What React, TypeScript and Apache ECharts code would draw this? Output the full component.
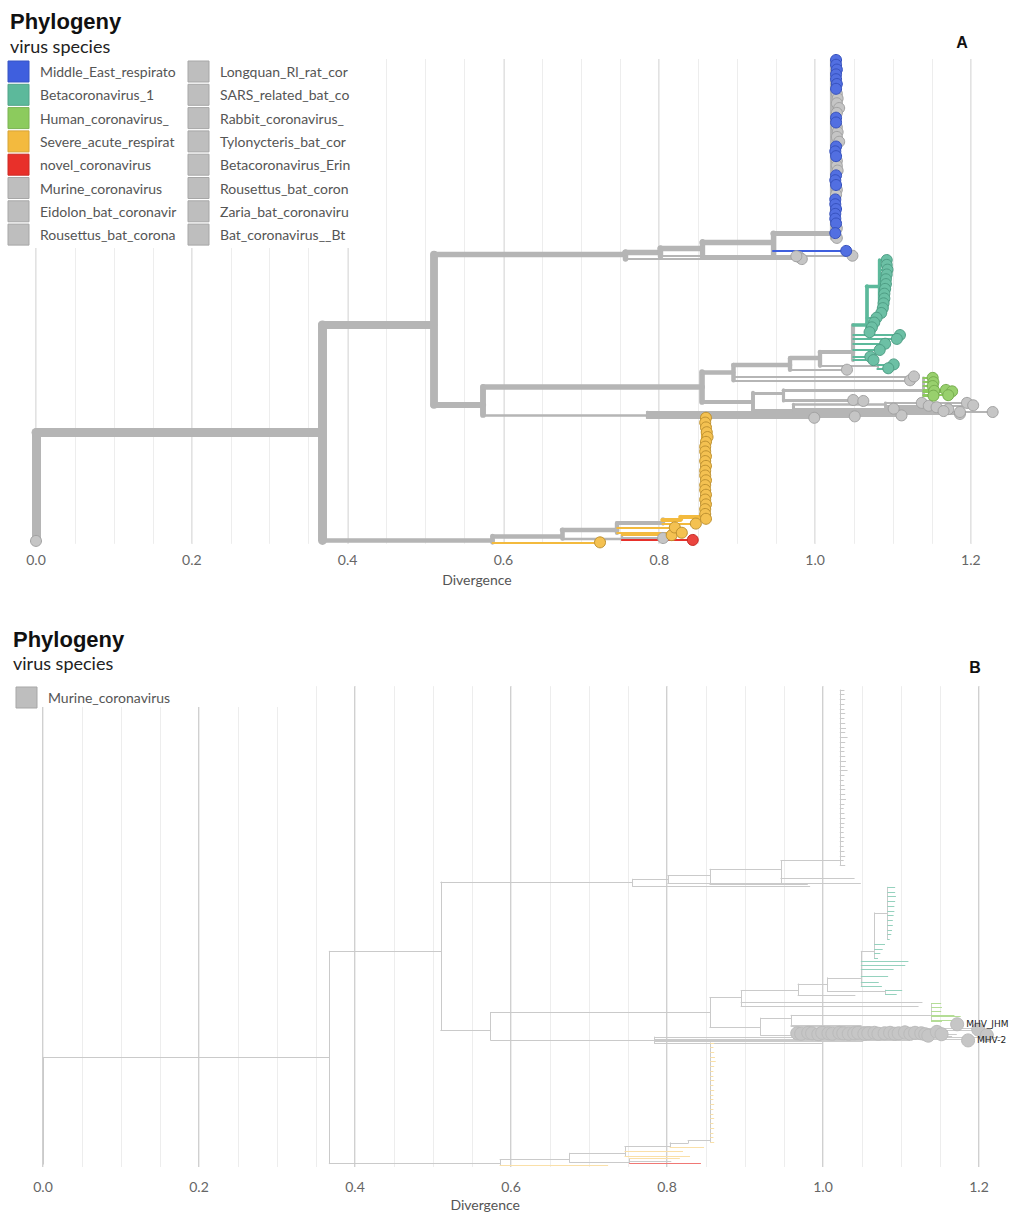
import React, { useEffect, useRef } from "react";
import * as echarts from "echarts";

// ---------- data ----------
const speciesNames = [
  "Middle_East_respiratory_syndrome_coronavirus",
  "Betacoronavirus_1",
  "Human_coronavirus_HKU1",
  "Severe_acute_respiratory_syndrome_related_coronavirus",
  "novel_coronavirus",
  "Murine_coronavirus",
  "Eidolon_bat_coronavirus_C704",
  "Rousettus_bat_coronavirus_GCCDC1",
  "Longquan_Rl_rat_coronavirus",
  "SARS_related_bat_coronavirus",
  "Rabbit_coronavirus_HKU14",
  "Tylonycteris_bat_coronavirus_HKU4",
  "Betacoronavirus_Erinaceus",
  "Rousettus_bat_coronavirus_HKU9",
  "Zaria_bat_coronavirus",
  "Bat_coronavirus__BtCoV_133",
];
const speciesColors = [
  "#3F5FDE", "#5CB99B", "#8CCB5D", "#F3BA3E", "#E8302A",
  "#BEBEBE", "#BEBEBE", "#BEBEBE", "#BEBEBE", "#BEBEBE", "#BEBEBE",
  "#BEBEBE", "#BEBEBE", "#BEBEBE", "#BEBEBE", "#BEBEBE",
];
const legendSpeciesB = [5];

const xTickLabels = ["0.0", "0.2", "0.4", "0.6", "0.8", "1.0", "1.2"];

// tree nodes: [id, parent, divergence, row (tip order, 0 = top), species (-1 = mixed)]
const treeNodes: [string, string, number, number, number][] = [
  ["root", "", 0, 88, -1],
  ["T0", "root", 0, 100, 15],
  ["A1", "root", 0.367, 77.5, -1],
  ["A2", "A1", 0.51, 55.1, -1],
  ["S0", "A1", 0.586, 99.9, -1],
  // MERS backbone
  ["M0", "A2", 0.756, 40.5, -1],
  ["M1", "M0", 0.801, 39.9, -1],
  ["tMa", "M0", 0.983, 41.4, 9],
  ["M2", "M1", 0.855, 39.1, -1],
  ["tMb", "M1", 0.976, 40.8, 9],
  ["M3", "M2", 0.946, 37.8, -1],
  ["tMc", "M2", 0.98, 41.0, 6],
  ["Mcol", "M3", 1.022, 36.0, -1],
  ["tMd", "M3", 1.04, 39.7, 0],
  ["tMe", "M3", 1.048, 40.7, 9],
  // lower clade
  ["B0", "A2", 0.574, 71.7, -1],
  ["C1", "B0", 0.855, 68.0, -1],
  ["L0", "B0", 0.784, 73.8, -1],
  ["tL1", "L0", 0.999, 74.4, 5],
  ["tL2", "L0", 1.051, 74.1, 5],
  ["tL3", "L0", 1.111, 73.9, 5],
  ["tL4", "L0", 1.186, 73.6, 5],
  ["tL5", "L0", 1.228, 73.2, 10],
  ["C2", "C1", 0.895, 64.9, -1],
  ["C5", "C1", 0.92, 71.1, -1],
  ["C3", "C2", 0.968, 63.4, -1],
  ["tC2a", "C2", 1.122, 66.6, 7],
  ["tC2b", "C2", 1.127, 65.8, 7],
  ["C4", "C3", 1.006, 62.0, -1],
  ["tC3a", "C3", 1.041, 64.4, 13],
  ["G1", "C4", 1.049, 60.7, -1],
  ["G2", "C4", 1.08, 63.6, -1],
  ["tG2a", "G2", 1.101, 63.3, 1],
  ["tG2b", "G2", 1.094, 64.1, 1],
  ["Gcol", "G1", 1.066, 55.1, 1],
  ["Gtop", "Gcol", 1.083, 47.0, 1],
  ["tG1a", "G1", 1.109, 57.2, 1],
  ["tG1b", "G1", 1.105, 58.0, 1],
  ["tG1c", "G1", 1.09, 59.0, 1],
  ["tG1d", "G1", 1.083, 60.3, 1],
  ["tG1e", "G1", 1.071, 61.7, 1],
  ["tG1f", "G1", 1.075, 62.4, 1],
  ["C6", "C5", 0.959, 69.2, -1],
  ["C7", "C5", 0.972, 72.8, -1],
  ["H1", "C6", 1.139, 68.6, -1],
  ["tC6a", "C6", 1.049, 70.7, 11],
  ["tC6b", "C6", 1.062, 70.9, 11],
  ["tH1", "H1", 1.151, 66.1, 2],
  ["tH2", "H1", 1.152, 67.0, 2],
  ["tH3", "H1", 1.151, 67.8, 2],
  ["tH4", "H1", 1.153, 68.8, 2],
  ["tH5", "H1", 1.152, 69.8, 2],
  ["tH6", "H1", 1.168, 68.6, 2],
  ["tH7", "H1", 1.176, 68.9, 2],
  ["tH8", "H1", 1.171, 69.7, 2],
  ["C8", "C7", 1.09, 71.6, -1],
  ["tC7a", "C7", 1.101, 72.5, 5],
  ["tC7b", "C7", 1.165, 73.0, 14],
  ["tC7c", "C7", 1.171, 72.6, 5],
  ["tC7d", "C7", 1.186, 73.2, 5],
  ["tC8a", "C8", 1.137, 71.3, 5],
  ["tC8b", "C8", 1.146, 71.9, 5],
  ["tC8c", "C8", 1.156, 72.2, 5],
  ["tC8d", "C8", 1.195, 71.3, 5],
  ["tC8e", "C8", 1.203, 71.8, 5],
  // SARS lineage
  ["S1", "S0", 0.675, 99.0, -1],
  ["tS0", "S0", 0.724, 100.3, 3],
  ["S2", "S1", 0.746, 97.7, -1],
  ["S1b", "S1", 0.752, 99.5, -1],
  ["tN1", "S1b", 0.843, 99.8, 4],
  ["tS1a", "S1b", 0.805, 99.4, 9],
  ["tS1b", "S1b", 0.816, 98.8, 3],
  ["S3", "S2", 0.804, 96.3, -1],
  ["tS2a", "S2", 0.82, 97.2, 3],
  ["tS2b", "S2", 0.829, 98.3, 3],
  ["S4", "S3", 0.827, 95.5, 3],
  ["tS3a", "S3", 0.847, 96.4, 3],
  ["Scol", "S4", 0.856, 95.0, 3],
];

// MERS column (children of Mcol)
const mersColRow = [0, 1, 2, 3, 4, 5, 6, 7, 8, 9, 10, 11, 12, 13, 14, 15, 16, 17, 18, 19, 20, 21, 22, 23, 24, 25, 26, 27, 28, 29, 30, 31, 32, 33, 34, 35, 36, 37];
const mersColDiv = [1.027, 1.027, 1.028, 1.027, 1.027, 1.028, 1.027, 1.028, 1.029, 1.028, 1.031, 1.028, 1.027, 1.027, 1.028, 1.029, 1.028, 1.031, 1.027, 1.026, 1.027, 1.028, 1.028, 1.029, 1.027, 1.026, 1.027, 1.028, 1.027, 1.026, 1.026, 1.027, 1.026, 1.026, 1.027, 1.028, 1.026, 1.028];
const mersColSp = [0, 0, 0, 0, 0, 0, 0, 8, 8, 8, 8, 8, 0, 0, 9, 9, 9, 9, 0, 0, 0, 8, 8, 8, 0, 0, 0, 9, 9, 0, 0, 0, 0, 0, 0, 8, 0, 9];

// Betacoronavirus_1 column
const betaTopRow = [41.6, 42.6, 43.6, 44.6, 45.6, 46.6, 47.6, 48.6, 49.6, 50.6, 51.6, 52.6];
const betaTopDiv = [1.092, 1.092, 1.093, 1.092, 1.091, 1.091, 1.09, 1.089, 1.089, 1.088, 1.087, 1.085];
const betaLowRow = [53.6, 54.6, 55.6, 56.6];
const betaLowDiv = [1.079, 1.076, 1.073, 1.07];

// SARS column
const sarsColRow = [74.4, 75.4, 76.4, 77.4, 78.4, 79.4, 80.4, 81.4, 82.4, 83.4, 84.4, 85.4, 86.4, 87.4, 88.4, 89.4, 90.4, 91.4, 92.4, 93.4, 94.4, 95.4];
const sarsColDiv = [0.86, 0.859, 0.86, 0.861, 0.862, 0.86, 0.859, 0.859, 0.86, 0.859, 0.86, 0.859, 0.859, 0.86, 0.859, 0.859, 0.86, 0.859, 0.86, 0.859, 0.859, 0.86];

// Panel B: Murine_coronavirus tips shown
const murineBDiv = [0.967, 0.972, 0.981, 0.986, 0.994, 0.999, 1.007, 1.012, 1.021, 1.026, 1.033, 1.04, 1.045, 1.053, 1.058, 1.066, 1.071, 1.079, 1.086, 1.092, 1.097, 1.105, 1.112, 1.118, 1.126, 1.131, 1.135, 1.146, 1.152, 1.186, 1.172, 1.199, 1.21];
const murineBRow = [72.4, 72.5, 72.3, 72.4, 72.6, 72.3, 72.4, 72.5, 72.3, 72.4, 72.5, 72.4, 72.3, 72.5, 72.4, 72.3, 72.5, 72.4, 72.3, 72.5, 72.4, 72.2, 72.5, 72.3, 72.4, 72.6, 72.9, 72.1, 72.6, 73.9, 70.5, 71.6, 72.8];
const murineBLabel = ["", "", "", "", "", "", "", "", "", "", "", "", "", "", "", "", "", "", "", "", "", "", "", "", "", "", "", "", "", "MHV-2", "MHV_JHM", "", ""];

// ---------- helpers ----------
function mix(hex: string, target: string, t: number) {
  const a = parseInt(hex.slice(1), 16);
  const b = parseInt(target.slice(1), 16);
  const ch = (s: number) => Math.round(((a >> s) & 255) * (1 - t) + ((b >> s) & 255) * t);
  return `rgb(${ch(16)},${ch(8)},${ch(0)})`;
}

type TNode = { id: string; parent: string; div: number; row: number; sp: number; children: TNode[]; n: number };

function buildTree() {
  const map = new Map<string, TNode>();
  const add = (id: string, parent: string, div: number, row: number, sp: number) =>
    map.set(id, { id, parent, div, row, sp, children: [], n: 0 });
  treeNodes.forEach(([id, p, d, r, s]) => add(id, p, d, r, s));
  mersColRow.forEach((r, i) => add("mc" + i, "Mcol", mersColDiv[i], r, mersColSp[i]));
  betaTopRow.forEach((r, i) => add("bt" + i, "Gtop", betaTopDiv[i], r, 1));
  betaLowRow.forEach((r, i) => add("bl" + i, "Gcol", betaLowDiv[i], r, 1));
  sarsColRow.forEach((r, i) => add("sc" + i, "Scol", sarsColDiv[i], r, 3));
  let root: TNode | null = null;
  map.forEach((nd) => {
    if (nd.parent) map.get(nd.parent)!.children.push(nd);
    else root = nd;
  });
  const count = (nd: TNode): number =>
    (nd.n = nd.children.length ? nd.children.reduce((s, c) => s + count(c), 0) : 1);
  count(root!);
  return { map, root: root! as TNode };
}

const BRANCH_GRAY = "#B5B5B5";
const BRANCH_GRAY_B = "#CACACA";

function branchSegments(panel: "A" | "B") {
  const { map, root } = buildTree();
  const total = root.n;
  const segs: any[] = [];
  map.forEach((nd) => {
    const isTip = nd.children.length === 0;
    const colored = nd.sp >= 0 && nd.sp <= 4;
    const w = panel === "A" ? 1.5 + 7.5 * Math.pow(nd.n / total, 0.6) : 1;
    let color = colored ? speciesColors[nd.sp] : BRANCH_GRAY;
    let hi = colored ? 1 : 0;
    if (panel === "B") {
      if (isTip && nd.sp >= 1 && nd.sp <= 4) {
        color = mix(speciesColors[nd.sp], "#FFFFFF", nd.sp === 3 ? 0.55 : 0.35);
        hi = 1;
      } else {
        color = BRANCH_GRAY_B;
        hi = 0;
      }
    }
    if (nd.parent) {
      const p = map.get(nd.parent)!;
      if (nd.div > p.div) segs.push({ coords: [[p.div, nd.row], [nd.div, nd.row]], w, color, hi });
    }
    if (!isTip) {
      const rows = nd.children.map((c) => c.row).concat([nd.row]);
      segs.push({ coords: [[nd.div, Math.min(...rows)], [nd.div, Math.max(...rows)]], w, color, hi });
    }
  });
  segs.sort((a, b) => a.hi - b.hi || b.w - a.w);
  return segs.map((s) => ({ coords: s.coords, lineStyle: { color: s.color, width: s.w, cap: "round", opacity: 1 } }));
}

function tipSeriesA() {
  const { map } = buildTree();
  const bySp: number[][][] = speciesNames.map(() => []);
  map.forEach((nd) => {
    if (nd.children.length === 0) bySp[nd.sp].push([nd.div, nd.row]);
  });
  const order = [5, 6, 7, 8, 9, 10, 11, 12, 13, 14, 15, 0, 1, 2, 3, 4];
  return order
    .filter((s) => bySp[s].length)
    .map((s) => ({
      type: "scatter",
      name: speciesNames[s],
      xAxisIndex: 0,
      yAxisIndex: 0,
      data: bySp[s],
      symbol: "circle",
      symbolSize: 11,
      clip: false,
      silent: true,
      z: 4,
      itemStyle: {
        color: mix(speciesColors[s], "#FFFFFF", 0.1),
        borderColor: mix(speciesColors[s], "#000000", s === 3 ? 0.22 : 0.15),
        borderWidth: 1,
        opacity: 1,
      },
    }));
}

const tickFmt = (v: number) => {
  const k = Math.round(v / 0.2);
  return Math.abs(v - k * 0.2) < 1e-6 && k < xTickLabels.length ? xTickLabels[k] : "";
};

function xAxes(grid: number, max: number, margin: number, nameGap: number, padRight: number, majorColor: string, majorWidth: number) {
  return [
    {
      type: "value", gridIndex: grid, min: 0, max, interval: 0.2, position: "bottom",
      axisLine: { show: false }, axisTick: { show: false },
      axisLabel: { margin, color: "#666", fontFamily: "Lato", fontSize: 14, formatter: tickFmt, showMaxLabel: false },
      splitLine: { show: true, showMaxLine: false, lineStyle: { color: majorColor, width: majorWidth } },
      name: "Divergence", nameLocation: "middle", nameGap,
      nameTextStyle: { color: "#555", fontFamily: "Lato", fontSize: 14, padding: [0, padRight, 0, 0] },
    },
    {
      type: "value", gridIndex: grid, min: 0, max, interval: 0.05, position: "top",
      axisLine: { show: false }, axisTick: { show: false }, axisLabel: { show: false },
      splitLine: { show: true, showMaxLine: false, lineStyle: { color: "#EDEDED", width: 1 } },
    },
  ];
}

function legendGraphics(species: number[], x0: number, y0: number, textWidths: number[], rowH: number, perCol: number, colW: number) {
  const out: any[] = [];
  species.forEach((s, i) => {
    const col = Math.floor(i / perCol);
    const r = i % perCol;
    const x = x0 + col * colW;
    const y = y0 + r * rowH;
    out.push({
      type: "rect", z: 10, shape: { x, y, width: 21, height: 21 },
      style: { fill: speciesColors[s], stroke: mix(speciesColors[s], "#000000", 0.12), lineWidth: 1 },
    });
    out.push({
      type: "text", z: 10, x: x + 32, y: y + 10.5,
      style: {
        text: speciesNames[s], width: textWidths[col], overflow: "truncate", ellipsis: "",
        fill: "#555", fontFamily: "Lato", fontSize: 14, verticalAlign: "middle", align: "left",
      },
    });
  });
  return out;
}

function buildOption() {
  const allSpecies = speciesNames.map((_, i) => i);
  const graphic: any[] = [
    { type: "rect", z: 9, shape: { x: 0, y: 56, width: 366, height: 192 }, style: { fill: "#FFFFFF" } },
    { type: "rect", z: 9, shape: { x: 0, y: 681, width: 300, height: 26 }, style: { fill: "#FFFFFF" } },
    { type: "text", z: 10, x: 10, y: 21, style: { text: "Phylogeny", fill: "#111", fontFamily: "Liberation Sans", fontWeight: "bold", fontSize: 22, verticalAlign: "middle" } },
    { type: "text", z: 10, x: 10, y: 46, style: { text: "virus species", fill: "#222", fontFamily: "Lato", fontSize: 18, verticalAlign: "middle" } },
    { type: "text", z: 10, x: 962, y: 42, style: { text: "A", fill: "#111", fontFamily: "Liberation Sans", fontWeight: "bold", fontSize: 16, align: "center", verticalAlign: "middle" } },
    { type: "text", z: 10, x: 13, y: 639.5, style: { text: "Phylogeny", fill: "#111", fontFamily: "Liberation Sans", fontWeight: "bold", fontSize: 22, verticalAlign: "middle" } },
    { type: "text", z: 10, x: 13, y: 663, style: { text: "virus species", fill: "#222", fontFamily: "Lato", fontSize: 18, verticalAlign: "middle" } },
    { type: "text", z: 10, x: 975, y: 667, style: { text: "B", fill: "#111", fontFamily: "Liberation Sans", fontWeight: "bold", fontSize: 16, align: "center", verticalAlign: "middle" } },
    ...legendGraphics(allSpecies, 8, 61, [139, 134], 23.3, 8, 180),
    ...legendGraphics(legendSpeciesB, 16, 687, [200], 23.3, 8, 180),
  ];

  const murineData = murineBDiv.map((d, i) => ({
    value: [d, murineBRow[i]],
    name: murineBLabel[i],
    label: { show: murineBLabel[i] !== "" },
  }));

  return {
    animation: false,
    backgroundColor: "#FFFFFF",
    grid: [
      { left: 36, top: 59, width: 969.9, height: 484.8 },
      { left: 43, top: 686.2, width: 963.3, height: 481.6 },
    ],
    xAxis: [
      ...xAxes(0, 1.245, 9, 29, 88, "#D8D8D8", 1.5),
      ...xAxes(1, 1.235, 12, 30, 79, "#D0D0D0", 2),
    ],
    yAxis: [
      { type: "value", gridIndex: 0, min: -0.2, max: 100.6, inverse: true, show: false },
      { type: "value", gridIndex: 1, min: -0.8, max: 100.6, inverse: true, show: false },
    ],
    series: [
      {
        type: "lines", coordinateSystem: "cartesian2d", xAxisIndex: 0, yAxisIndex: 0,
        silent: true, clip: false, z: 2, lineStyle: { opacity: 1, cap: "round" },
        data: branchSegments("A"),
      },
      ...tipSeriesA(),
      {
        type: "lines", coordinateSystem: "cartesian2d", xAxisIndex: 2, yAxisIndex: 1,
        silent: true, clip: false, z: 2, lineStyle: { opacity: 1 },
        data: branchSegments("B"),
      },
      {
        type: "scatter", name: speciesNames[5], xAxisIndex: 2, yAxisIndex: 1,
        data: murineData, symbolSize: 13, clip: false, silent: true, z: 4,
        itemStyle: { color: "#C6C6C6", borderColor: "#BBBBBB", borderWidth: 1, opacity: 1 },
        label: { position: "right", distance: 2, formatter: "{b}", color: "#222", fontSize: 9, fontFamily: "DejaVu Sans" },
      },
    ],
    graphic,
  };
}

export default function App() {
  const ref = useRef<HTMLDivElement>(null);
  useEffect(() => {
    const chart = echarts.init(ref.current!, undefined, { renderer: "svg" });
    chart.setOption(buildOption() as any);
    return () => chart.dispose();
  }, []);
  return (
    <div
      ref={ref}
      style={{ position: "absolute", left: 0, top: 0, width: 1012, height: 1212, background: "#fff" }}
    />
  );
}
